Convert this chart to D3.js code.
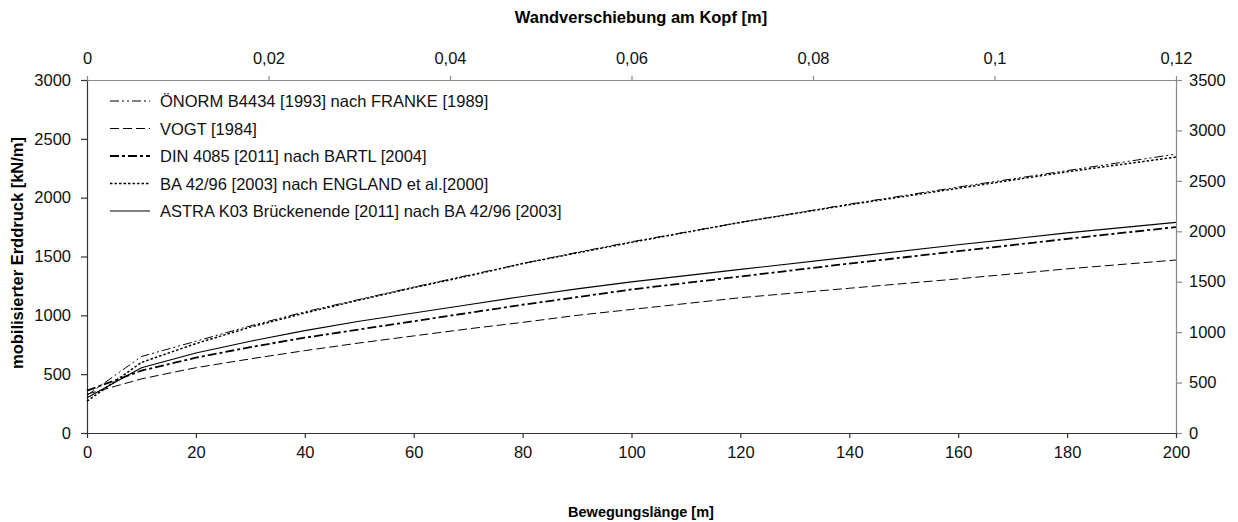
<!DOCTYPE html>
<html>
<head>
<meta charset="utf-8">
<script src="https://cdn.jsdelivr.net/npm/d3@7"></script>
<style>
  body { margin: 0; background: #fff; }
  svg { display: block; font-family: "Liberation Sans", Arial, sans-serif; }
</style>
</head>
<body>
<svg id="chart" width="1238" height="522"></svg>
<script>
// Bewegungslänge [m] sample points
const xValues = [0, 10, 20, 30, 40, 50, 60, 70, 80, 90, 100, 120, 140, 160, 180, 200];

// mobilisierter Erddruck [kN/m] per method
const oenorm = [320, 650, 780, 910, 1030, 1135, 1240, 1340, 1440, 1535, 1625, 1790, 1945, 2090, 2230, 2370];
const vogt   = [330, 460, 555, 630, 700, 765, 825, 885, 940, 1000, 1050, 1150, 1230, 1310, 1395, 1470];
const din    = [360, 530, 640, 730, 810, 880, 950, 1020, 1090, 1155, 1220, 1330, 1440, 1545, 1650, 1750];
const ba     = [270, 600, 760, 900, 1020, 1130, 1235, 1335, 1440, 1530, 1620, 1790, 1940, 2080, 2220, 2345];
const astra  = [300, 555, 680, 780, 870, 950, 1020, 1090, 1160, 1225, 1285, 1390, 1495, 1600, 1700, 1790];

const seriesNames = [
  "ÖNORM B4434 [1993] nach FRANKE [1989]",
  "VOGT [1984]",
  "DIN 4085 [2011] nach BARTL [2004]",
  "BA 42/96 [2003] nach ENGLAND et al.[2000]",
  "ASTRA K03 Brückenende [2011] nach BA 42/96 [2003]"
];
const seriesValues = [oenorm, vogt, din, ba, astra];

const bottomTicks = [0, 20, 40, 60, 80, 100, 120, 140, 160, 180, 200];
const leftTicks = [0, 500, 1000, 1500, 2000, 2500, 3000];
const topTicks = [0, 0.02, 0.04, 0.06, 0.08, 0.1, 0.12];
const rightTicks = [0, 500, 1000, 1500, 2000, 2500, 3000, 3500];

// line styles per series
const styles = [
  { dash: "9,3,2,3,2,3", width: 1 },
  { dash: "9,4", width: 1 },
  { dash: "9,3,3,3", width: 1.8 },
  { dash: "2.5,2", width: 1.5 },
  { dash: null, width: 1.2 }
];

const svg = d3.select("#chart");
const L = 87, R = 1176, T = 80, B = 433;

const x = d3.scaleLinear().domain([0, 200]).range([L, R]);
const y = d3.scaleLinear().domain([0, 3000]).range([B, T]);
const xTop = d3.scaleLinear().domain([0, 0.12]).range([L, R]);
const yRight = d3.scaleLinear().domain([0, 3500]).range([B, T]);

const comma = d => String(d).replace(".", ",");

function styleAxis(g, color) {
  g.select(".domain").attr("stroke", color).attr("stroke-width", 1.2);
  g.selectAll(".tick line").attr("stroke", color).attr("stroke-width", 1.2);
  g.selectAll(".tick text").attr("fill", "#111").style("font-size", "16.5px")
    .style("font-family", "'Liberation Sans', Arial, sans-serif");
}

// top and right axes (grey)
svg.append("g").attr("transform", `translate(0,${T})`)
  .call(d3.axisTop(xTop).tickValues(topTicks).tickFormat(comma).tickSize(4).tickSizeOuter(0).tickPadding(12))
  .call(g => styleAxis(g, "#8a8a8a"));
svg.append("g").attr("transform", `translate(${R},0)`)
  .call(d3.axisRight(yRight).tickValues(rightTicks).tickFormat(d => d).tickSize(6).tickSizeOuter(0).tickPadding(7))
  .call(g => styleAxis(g, "#8a8a8a"));

// bottom and left axes (dark)
svg.append("g").attr("transform", `translate(0,${B})`)
  .call(d3.axisBottom(x).tickValues(bottomTicks).tickFormat(d => d).tickSize(5).tickSizeOuter(0).tickPadding(8))
  .call(g => styleAxis(g, "#333"));
svg.append("g").attr("transform", `translate(${L},0)`)
  .call(d3.axisLeft(y).tickValues(leftTicks).tickFormat(d => d).tickSize(6).tickSizeOuter(0).tickPadding(10))
  .call(g => styleAxis(g, "#333"));

// axis titles
svg.append("text").attr("x", 641).attr("y", 23).attr("text-anchor", "middle")
  .style("font-size", "16.5px").style("font-weight", "bold").text("Wandverschiebung am Kopf [m]");
svg.append("text").attr("x", 641).attr("y", 517).attr("text-anchor", "middle")
  .style("font-size", "14.5px").style("font-weight", "bold").text("Bewegungslänge [m]");
svg.append("text").attr("transform", `translate(23,253) rotate(-90)`)
  .attr("text-anchor", "middle")
  .style("font-size", "16.5px").style("font-weight", "bold").text("mobilisierter Erddruck [kN/m]");

// series lines
const line = d3.line().x((d, i) => x(xValues[i])).y(d => y(d));
seriesValues.forEach((vals, k) => {
  svg.append("path").datum(vals)
    .attr("d", line)
    .attr("fill", "none")
    .attr("stroke", "#000")
    .attr("stroke-width", styles[k].width)
    .attr("stroke-dasharray", styles[k].dash);
});

// legend
const legend = svg.append("g").attr("transform", "translate(110,101)");
seriesNames.forEach((name, k) => {
  const g = legend.append("g").attr("transform", `translate(0,${k * 27.5})`);
  g.append("line").attr("x1", 0).attr("x2", 40).attr("y1", 0).attr("y2", 0)
    .attr("stroke", "#000").attr("stroke-width", styles[k].width)
    .attr("stroke-dasharray", styles[k].dash);
  g.append("text").attr("x", 50).attr("y", 6).style("font-size", "16.5px").attr("fill", "#111").text(name);
});
</script>
</body>
</html>
